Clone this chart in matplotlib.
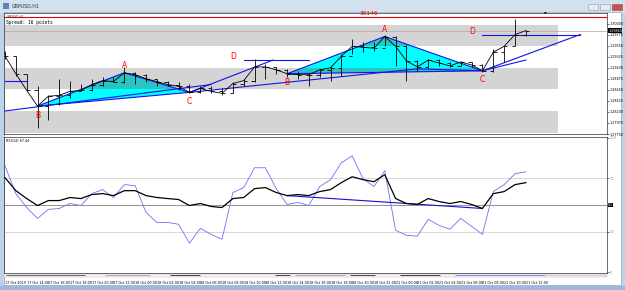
import matplotlib
matplotlib.use("Agg")
import matplotlib.pyplot as plt
from matplotlib.patches import Rectangle, Polygon
import numpy as np

# ---------------- data ----------------
time_labels = ["17 Oct 2019", "17 Oct 14:00", "17 Oct 16:00", "17 Oct 18:00", "17 Oct 20:00",
               "17 Oct 22:00", "18 Oct 00:00", "18 Oct 02:00", "18 Oct 04:00", "18 Oct 06:00",
               "18 Oct 08:00", "18 Oct 10:00", "18 Oct 12:00", "18 Oct 14:00", "18 Oct 16:00",
               "18 Oct 18:00", "18 Oct 20:00", "18 Oct 22:00", "21 Oct 00:00", "21 Oct 02:00",
               "21 Oct 04:00", "21 Oct 06:00", "21 Oct 08:00", "21 Oct 10:00", "21 Oct 12:00"]

opens = [1.2940, 1.2934, 1.2898, 1.2864, 1.2832, 1.2852, 1.2854, 1.2862, 1.2864, 1.2876,
         1.2884, 1.2882, 1.2900, 1.2896, 1.2888, 1.2882, 1.2876, 1.2872, 1.2860, 1.2868,
         1.2862, 1.2858, 1.2878, 1.2884, 1.2912, 1.2912, 1.2906, 1.2898, 1.2896, 1.2896,
         1.2906, 1.2910, 1.2934, 1.2954, 1.2952, 1.2950, 1.2974, 1.2954, 1.2924, 1.2912,
         1.2926, 1.2920, 1.2914, 1.2922, 1.2916, 1.2904, 1.2942, 1.2954, 1.2978]
highs = [1.2944, 1.2934, 1.2898, 1.2872, 1.2854, 1.2888, 1.2884, 1.2878, 1.2888, 1.2892,
         1.2892, 1.2912, 1.2902, 1.2898, 1.2888, 1.2884, 1.2882, 1.2878, 1.2874, 1.2872,
         1.2868, 1.2882, 1.2888, 1.2928, 1.2918, 1.2912, 1.2908, 1.2904, 1.2898, 1.2908,
         1.2914, 1.2938, 1.2968, 1.2962, 1.2962, 1.2978, 1.2976, 1.2956, 1.2926, 1.2928,
         1.2928, 1.2922, 1.2924, 1.2922, 1.2918, 1.2948, 1.2954, 1.3010, 1.2988]
lows = [1.2928, 1.2894, 1.2862, 1.2788, 1.2804, 1.2834, 1.2848, 1.2862, 1.2862, 1.2872,
        1.2882, 1.2880, 1.2878, 1.2882, 1.2874, 1.2872, 1.2864, 1.2858, 1.2858, 1.2858,
        1.2854, 1.2858, 1.2872, 1.2882, 1.2888, 1.2898, 1.2892, 1.2888, 1.2874, 1.2892,
        1.2884, 1.2894, 1.2938, 1.2942, 1.2944, 1.2954, 1.2914, 1.2884, 1.2904, 1.2910,
        1.2914, 1.2912, 1.2914, 1.2912, 1.2902, 1.2902, 1.2922, 1.2954, 1.2976]
closes = [1.2934, 1.2898, 1.2864, 1.2832, 1.2852, 1.2854, 1.2862, 1.2864, 1.2876, 1.2884,
          1.2882, 1.2900, 1.2896, 1.2888, 1.2882, 1.2876, 1.2872, 1.2860, 1.2868, 1.2862,
          1.2858, 1.2878, 1.2884, 1.2912, 1.2912, 1.2906, 1.2898, 1.2896, 1.2896, 1.2906,
          1.2910, 1.2934, 1.2954, 1.2952, 1.2950, 1.2974, 1.2954, 1.2924, 1.2912, 1.2926,
          1.2920, 1.2914, 1.2922, 1.2916, 1.2904, 1.2942, 1.2954, 1.2978, 1.2986]

rsi_fast = [79.3, 58.5, 48.1, 40.0, 46.7, 47.4, 51.1, 49.6, 58.5, 61.5,
            55.6, 65.2, 64.4, 44.4, 37.0, 37.0, 35.6, 21.5, 32.6, 28.1,
            24.4, 59.3, 63.0, 77.8, 77.8, 62.2, 50.4, 51.9, 49.6, 63.7,
            68.9, 81.5, 86.7, 69.6, 63.7, 75.6, 31.1, 27.4, 26.7, 39.3,
            34.8, 31.9, 40.0, 34.1, 28.1, 60.0, 65.2, 73.3, 74.8]
rsi_slow = [70.4, 60.7, 54.8, 49.6, 53.3, 53.3, 55.6, 54.8, 57.8, 58.5,
            57.0, 60.7, 60.7, 57.0, 55.6, 54.8, 54.1, 49.6, 51.1, 48.9,
            48.1, 54.8, 55.6, 62.2, 63.0, 59.3, 57.0, 57.8, 57.0, 60.0,
            61.5, 66.7, 71.1, 68.9, 67.4, 72.6, 54.8, 51.1, 50.4, 54.8,
            52.6, 51.1, 52.6, 50.4, 47.4, 58.5, 60.0, 65.2, 66.7]

price_ticks = [1.30000, 1.29775, 1.29550, 1.29325, 1.29100, 1.28875,
               1.28650, 1.28425, 1.28200, 1.27975, 1.27750]
price_tick_labels = ["1.30000", "1.29775", "1.29550", "1.29325", "1.29100", "1.28875",
                     "1.28650", "1.28425", "1.28200", "1.27975", "1.27750"]
current_price = 1.2986
red_level = 1.3014
rsi_ticks = [0, 30, 70, 100]
rsi_levels = [30, 50, 70]

zones = [(1.2954, 1.2998), (1.2866, 1.2910), (1.2778, 1.2822)]
zone_end_bar = 51

p1_bars = [3, 11, 17]
p1_prices = [1.2832, 1.2900, 1.2860]
p2_bars = [26, 35, 44]
p2_prices = [1.2898, 1.2974, 1.2904]
pattern_names = ["B", "A", "C"]

trend_lines = [
    ((0, 1.2822), (19, 1.2876)),
    ((17, 1.2860), (24.7, 1.2926)),
    ((22, 1.2926), (28, 1.2926)),
    ((17, 1.2860), (38, 1.2908)),
    ((38, 1.2908), (44, 1.2904)),
    ((44, 1.2904), (48, 1.2926)),
    ((44, 1.2904), (53, 1.2978)),
    ((44, 1.2978), (53, 1.2978)),
    ((0, 1.2884), (2, 1.2884)),
]
d_points = [(22, 1.2926), (44, 1.2978)]
rsi_trend = ((26, 57.0), (44, 47.4))

# ---------------- figure ----------------
W, H = 625, 290
fig = plt.figure(figsize=(W / 100, H / 100), dpi=100)
fig.patch.set_facecolor('#BCD3EA')

bg = fig.add_axes([0, 0, 1, 1])
bg.set_xlim(0, W)
bg.set_ylim(H, 0)
bg.axis('off')
bg.add_patch(Rectangle((0, 0), W, 12, color='#D3E0EE', zorder=0))
bg.add_patch(Rectangle((3, 3), 6, 6, fc='#5C84B5', ec='none'))
bg.text(12, 6.5, "GBPUSD,H1", fontsize=3.4, va='center', color='#303030')
bg.add_patch(Rectangle((588, 4), 10, 6, fc='#E4EBF3', ec='#8A9BB0', lw=0.4))
bg.add_patch(Rectangle((600, 4), 10, 6, fc='#E4EBF3', ec='#8A9BB0', lw=0.4))
bg.add_patch(Rectangle((612, 4), 10, 6, fc='#C8524A', ec='#8A5050', lw=0.4))
bg.add_patch(Rectangle((4, 12), 617, 273, fc='white', ec='#8EA8C4', lw=0.5, zorder=0))
bg.add_patch(Rectangle((0, 285.5), W, 4.5, color='#9DBADA', zorder=0))
# tab strip under indicator
bg.add_patch(Rectangle((4, 273.5), 603, 3.5, fc='#F4F4F4', ec='#B0B0B0', lw=0.3))
for x0, x1, col in [(6, 85, '#505050'), (105, 150, '#A0A0A0'), (170, 200, '#202020'),
                    (275, 290, '#303030'), (295, 345, '#A0A0A0'), (350, 375, '#303030'),
                    (400, 440, '#202020'), (455, 545, '#8080F0'), (545, 606, '#D0D0D0')]:
    bg.plot([x0, x1], [275.3, 275.3], color=col, lw=0.6, solid_capstyle='butt')

# ---------------- main price panel ----------------
bars = np.arange(len(closes))
xl = (-0.09, 55.48)
ax1 = fig.add_axes([4 / W, 1 - 134 / H, 603 / W, 121 / H])
ax1.set_xlim(*xl)
ax1.set_ylim(1.2780, 1.3022)
ax1.set_facecolor('none')

for lo, hi in zones:
    ax1.add_patch(Rectangle((xl[0], lo), zone_end_bar - xl[0], hi - lo,
                            fc='#D4D4D4', ec='none', zorder=0))
band_clip = Rectangle((xl[0], zones[1][0]), zone_end_bar - xl[0], zones[1][1] - zones[1][0],
                      fc='none', ec='none')
ax1.add_patch(band_clip)
band_clip1 = Rectangle((xl[0], zones[0][0]), zone_end_bar - xl[0], zones[0][1] - zones[0][0],
                       fc='none', ec='none')
ax1.add_patch(band_clip1)

for pb, pp in [(p1_bars, p1_prices), (p2_bars, p2_prices)]:
    pts = list(zip(pb, pp))
    ax1.add_patch(Polygon(pts, closed=True, fc='#00FFFF', ec='none', zorder=1))
    for clip in (band_clip, band_clip1):
        pd = Polygon(pts, closed=True, fc='#2CC3C3', ec='none', zorder=1.1)
        ax1.add_patch(pd)
        pd.set_clip_path(clip)
    ax1.plot(pb + [pb[0]], pp + [pp[0]], color='#1414E6', lw=0.8, zorder=2)
    for b, p, nm in zip(pb, pp, pattern_names):
        off = 5 if nm == "A" else -6.5
        ax1.annotate(nm, (b, p), xytext=(0, off), textcoords='offset points',
                     ha='center', va='center', color='#FF0000', fontsize=5.5, zorder=5)

for (xa, ya), (xb, yb) in trend_lines:
    ax1.plot([xa, xb], [ya, yb], color='#1414E6', lw=0.8, zorder=2)
for b, p in d_points:
    ax1.annotate("D", (b, p), xytext=(-7.5, 2.5), textcoords='offset points',
                 ha='center', va='center', color='#FF0000', fontsize=5.5, zorder=5)

ax1.axhline(current_price, color='#A8A8A8', lw=0.5, zorder=1.5)
ax1.axhline(red_level, color='#E00000', lw=0.8, zorder=2)
ax1.text(33.5, 1.30215, "30146", color='#E00000', fontsize=4.2, ha='center', va='center', zorder=5)
ax1.text(49.8, 1.3020, "\u25bc", color='black', fontsize=2.5, ha='center', va='center')

ax1.vlines(bars, lows, highs, color='black', lw=0.6, zorder=3)
ax1.hlines(opens, bars - 0.3, bars, color='black', lw=0.6, zorder=3)
ax1.hlines(closes, bars, bars + 0.3, color='black', lw=0.6, zorder=3)
ax1.plot(bars, closes, color='black', lw=0.6, zorder=3)

ax1.set_xticks([])
ax1.yaxis.tick_right()
ax1.set_yticks(price_ticks)
ax1.set_yticklabels(price_tick_labels)
ax1.tick_params(axis='y', length=1.2, width=0.4, pad=0.6, labelsize=2.4)
for s in ax1.spines.values():
    s.set_linewidth(0.5)
    s.set_color('#303030')
ax1.text(0.004, 0.985, "GBPUSD,H1", transform=ax1.transAxes, fontsize=2.2, va='top', color='#303030')
ax1.text(0.004, 0.94, "Spread: 16 points", transform=ax1.transAxes, fontsize=3.3,
         family='DejaVu Sans Mono', va='top', color='black')
ax1.text(1.002, current_price, "1.29860", transform=ax1.get_yaxis_transform(), fontsize=2.4,
         color='white', va='center', ha='left',
         bbox=dict(boxstyle='square,pad=0.12', fc='black', ec='none'))

# ---------------- indicator panel ----------------
ax2 = fig.add_axes([4 / W, 1 - 273 / H, 603 / W, 136 / H])
ax2.set_xlim(*xl)
ax2.set_ylim(-0.74, 100.74)
ax2.set_facecolor('none')
for lv in rsi_levels:
    ax2.axhline(lv, color='#808080' if lv == 50 else '#D0D0D0', lw=0.6, zorder=0)
ax2.plot(bars, rsi_fast, color='#7070F0', lw=0.6, zorder=2)
ax2.plot(bars, rsi_slow, color='black', lw=0.9, zorder=3)
(ra, va_), (rb, vb) = rsi_trend
ax2.plot([ra, rb], [va_, vb], color='#1010D0', lw=0.8, zorder=2.5)
ax2.yaxis.tick_right()
ax2.set_yticks(rsi_ticks)
ax2.set_yticklabels([str(t) for t in rsi_ticks])
ax2.tick_params(axis='y', length=1.2, width=0.4, pad=0.6, labelsize=2.6, labelcolor='#909090')
ax2.set_xticks(bars[::2])
ax2.set_xticklabels(time_labels, ha='left')
ax2.tick_params(axis='x', length=0, pad=5.5, labelsize=2.4)
for s in ax2.spines.values():
    s.set_linewidth(0.5)
    s.set_color('#303030')
ax2.text(0.004, 0.985, "RSI(14) 67.44", transform=ax2.transAxes, fontsize=2.4, va='top')
ax2.text(1.002, 50, "50", transform=ax2.get_yaxis_transform(), fontsize=2.6,
         color='white', va='center', ha='left',
         bbox=dict(boxstyle='square,pad=0.12', fc='black', ec='none'))

fig.savefig("out.png", dpi=100)
